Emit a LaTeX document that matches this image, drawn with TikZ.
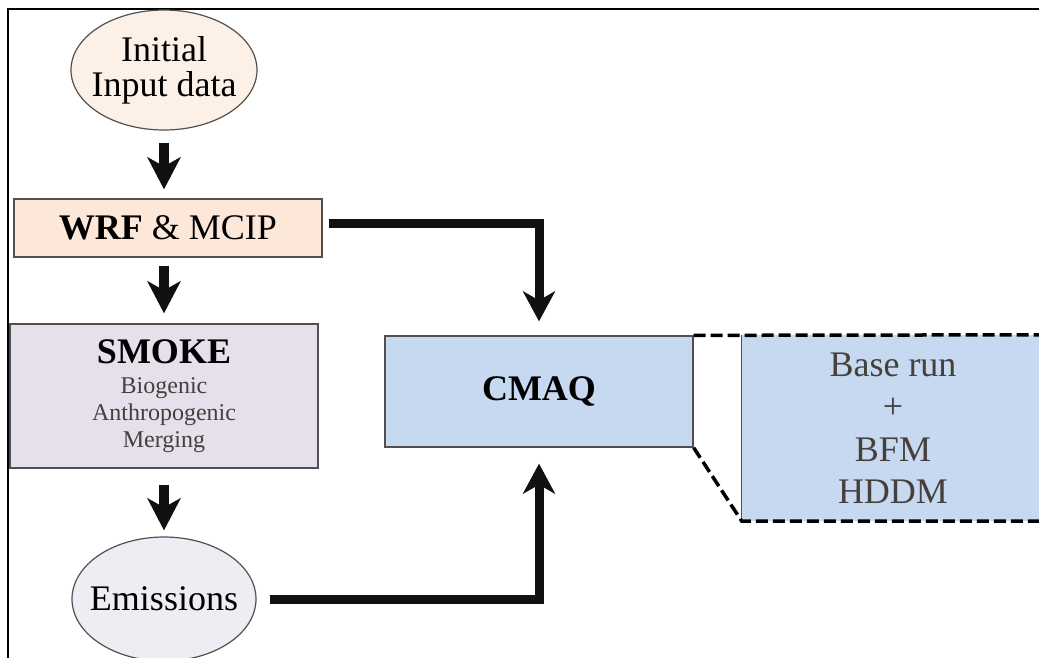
\documentclass[tikz,border=0pt]{standalone}
\usepackage{fontspec}
\setmainfont{Liberation Serif}
\usetikzlibrary{shapes.geometric,arrows.meta}
\definecolor{peachA}{HTML}{FDF1E7}
\definecolor{peachB}{HTML}{FCE7D8}
\definecolor{lavA}{HTML}{E5E0EC}
\definecolor{lavB}{HTML}{EFEDF4}
\definecolor{blueA}{HTML}{C6D9F0}
\definecolor{edgegray}{HTML}{505050}
\definecolor{textgray}{HTML}{45403C}
\definecolor{arrowblack}{HTML}{111111}
\tikzset{
  bigfont/.style={font=\fontsize{36}{35}\selectfont},
  ellnode/.style={ellipse, draw=edgegray, line width=1.2pt, inner xsep=-18pt, inner ysep=0pt, align=center, bigfont},
  boxnode/.style={rectangle, draw=edgegray, line width=1.3pt, inner sep=0pt, align=center},
  shortarrow/.style={draw=arrowblack, line width=10pt, -{Stealth[length=32pt,width=33pt,inset=9pt]}},
  longarrow/.style={draw=arrowblack, line width=9pt, -{Stealth[length=30pt,width=32pt,inset=9pt]}},
  zoomline/.style={draw=black, line width=3.5pt, dash pattern=on 12pt off 5pt},
}
\begin{document}
\begin{tikzpicture}[x=1pt,y=-1pt]
\useasboundingbox (0,0) rectangle (1039,657);
% frame
\draw[line width=2.5pt] (8,660) -- (8,9) -- (1045,9);
% nodes
\node[ellnode, fill=peachA, minimum width=186pt, minimum height=120pt] (init) at (164,70) {Initial\\Input data};
\node[boxnode, fill=peachB, minimum width=308pt, minimum height=58pt, bigfont] (wrf) at (168,228) {\textbf{WRF} \& MCIP};
\node[boxnode, fill=lavA, minimum width=308pt, minimum height=144pt, font=\fontsize{24}{27}\selectfont] (smoke) at (164,396)
  {{\fontsize{36}{36}\selectfont\bfseries SMOKE}\\[3pt]\textcolor{textgray}{Biogenic}\\\textcolor{textgray}{Anthropogenic}\\\textcolor{textgray}{Merging}};
\node[ellnode, fill=lavB, minimum width=184pt, minimum height=124pt] (emis) at (164,599) {Emissions};
\node[boxnode, fill=blueA, minimum width=308pt, minimum height=111pt, bigfont] (cmaq) at (539,391.5) {\textbf{CMAQ}};
\node[rectangle, fill=blueA, minimum width=302pt, minimum height=186pt, inner sep=0pt, align=center,
  font=\fontsize{36}{42.5}\selectfont, text=textgray] (res) at (893,428) {Base run\\+\\BFM\\HDDM};
\draw[edgegray, line width=1.3pt] (res.north west) -- (res.south west);
% zoom lines
\draw[zoomline] (cmaq.north east) -- (res.north east);
\draw[zoomline] (cmaq.south east) -- (res.south west) -- (res.south east);
% arrows
\draw[shortarrow, shorten <=12pt, shorten >=9pt] (init.south) -- (init.south |- wrf.north);
\draw[shortarrow, shorten <=8pt, shorten >=10pt] (wrf.south -| init.south) -- (init.south |- smoke.north);
\draw[shortarrow, shorten <=16pt, shorten >=6pt] (smoke.south) -- (emis.north);
\draw[longarrow, shorten >=14pt] ([xshift=6pt,yshift=5pt]wrf.east) -| (cmaq.north);
\draw[longarrow, shorten >=16pt] ([xshift=13pt]emis.east) -| (cmaq.south);
\end{tikzpicture}
\end{document}
